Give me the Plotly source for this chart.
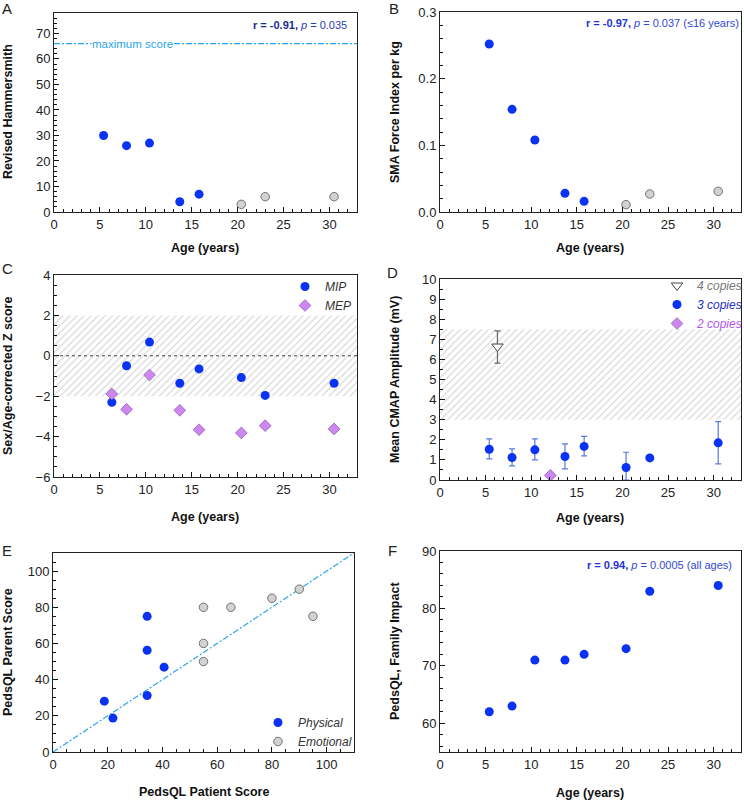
import plotly.graph_objects as go

W, H = 744, 800
FONT = "Liberation Sans, Arial, sans-serif"
BLUE = "#0a32f2"
GRAY_FILL = "#d2d2d2"
GRAY_EDGE = "#555555"
VIOLET_FILL = "#cc88ee"
VIOLET_EDGE = "#9a55c0"
LIGHT_BLUE = "#2aa6ee"

# ---------------- data ----------------
# Panel A: Revised Hammersmith vs age
a_age_blue = [5.4, 7.9, 10.4, 13.7, 15.8]
a_score_blue = [30, 26, 27, 4, 7]
a_age_gray = [20.4, 23.0, 30.5]
a_score_gray = [3, 6, 6]
a_max_score = 66

# Panel B: SMA Force Index per kg vs age
b_age_blue = [5.4, 7.9, 10.4, 13.7, 15.8]
b_sfi_blue = [0.252, 0.154, 0.108, 0.028, 0.016]
b_age_gray = [20.4, 23.0, 30.5]
b_sfi_gray = [0.011, 0.027, 0.031]

# Panel C: Z scores
c_age = [6.3, 7.9, 10.4, 13.7, 15.8, 20.4, 23.0, 30.5]
c_mip = [-2.30, -0.49, 0.68, -1.36, -0.65, -1.08, -1.96, -1.36]
c_mep = [-1.89, -2.65, -0.95, -2.70, -3.66, -3.82, -3.46, -3.62]
c_normal_band = [-2, 2]

# Panel D: CMAP amplitude
d_age_3 = [5.4, 7.9, 10.4, 13.7, 15.8, 20.4, 23.0, 30.5]
d_cmap_3 = [1.53, 1.12, 1.50, 1.17, 1.67, 0.62, 1.10, 1.85]
d_err_plus_3 = [0.52, 0.43, 0.55, 0.63, 0.50, 0.76, 0.0, 1.05]
d_err_minus_3 = [0.48, 0.42, 0.50, 0.62, 0.47, 0.62, 0.0, 1.05]
d_age_4 = [6.3]
d_cmap_4 = [6.64]
d_err_plus_4 = [0.78]
d_err_minus_4 = [0.83]
d_age_2 = [12.1]
d_cmap_2 = [0.23]
d_normal_band = [3, 7.5]

# Panel E: PedsQL patient vs parent
e_patient_phys = [18.75, 21.9, 34.4, 34.4, 34.4, 40.6]
e_parent_phys = [28.1, 18.75, 75.0, 56.25, 31.25, 46.9]
e_patient_emo = [55, 55, 55, 65, 80, 90, 95]
e_parent_emo = [80, 60, 50, 80, 85, 90, 75]
e_identity = [0, 110]

# Panel F: PedsQL Family Impact vs age
f_age = [5.4, 7.9, 10.4, 13.7, 15.8, 20.4, 23.0, 30.5]
f_impact = [62, 63, 71, 71, 72, 73, 83, 84]


def px_x(x):
    return x / W


def px_y(y):
    return 1 - y / H


def dom(x0, x1, y0, y1):
    return [px_x(x0), px_x(x1)], [px_y(y1), px_y(y0)]


fig = go.Figure()

blue_marker = dict(color=BLUE, size=9, line=dict(width=0))
gray_marker = dict(color=GRAY_FILL, size=8.5, line=dict(color=GRAY_EDGE, width=0.8))
violet_marker = dict(color=VIOLET_FILL, size=9, symbol="diamond",
                     line=dict(color=VIOLET_EDGE, width=0.8))

# ---- A ----
fig.add_trace(go.Scatter(x=a_age_blue, y=a_score_blue, mode="markers", marker=blue_marker,
                         xaxis="x", yaxis="y", showlegend=False))
fig.add_trace(go.Scatter(x=a_age_gray, y=a_score_gray, mode="markers", marker=gray_marker,
                         xaxis="x", yaxis="y", showlegend=False))
fig.add_shape(type="line", xref="x", yref="y", x0=0, x1=33, y0=a_max_score, y1=a_max_score,
              line=dict(color=LIGHT_BLUE, width=1.2, dash="6px,2px,2px,2px"))

# ---- B ----
fig.add_trace(go.Scatter(x=b_age_blue, y=b_sfi_blue, mode="markers", marker=blue_marker,
                         xaxis="x2", yaxis="y2", showlegend=False))
fig.add_trace(go.Scatter(x=b_age_gray, y=b_sfi_gray, mode="markers", marker=gray_marker,
                         xaxis="x2", yaxis="y2", showlegend=False))

# ---- C ----
hatch = dict(shape="/", fgcolor="#b4b4b4", bgcolor="white", size=5, solidity=0.25)
fig.add_trace(go.Scatter(x=[0, 33, 33, 0, 0],
                         y=[c_normal_band[0], c_normal_band[0], c_normal_band[1], c_normal_band[1], c_normal_band[0]],
                         fill="toself", fillpattern=hatch, mode="lines", line=dict(width=0),
                         xaxis="x3", yaxis="y3", showlegend=False, hoverinfo="skip"))
fig.add_shape(type="line", xref="x3", yref="y3", x0=0, x1=33, y0=0, y1=0,
              line=dict(color="#444", width=1, dash="dot"))
fig.add_trace(go.Scatter(x=c_age, y=c_mip, mode="markers", marker=blue_marker, name="MIP",
                         xaxis="x3", yaxis="y3", legend="legend"))
fig.add_trace(go.Scatter(x=c_age, y=c_mep, mode="markers", marker=violet_marker, name="MEP",
                         xaxis="x3", yaxis="y3", legend="legend"))

# ---- D ----
fig.add_trace(go.Scatter(x=[0, 33, 33, 0, 0],
                         y=[d_normal_band[0], d_normal_band[0], d_normal_band[1], d_normal_band[1], d_normal_band[0]],
                         fill="toself", fillpattern=hatch, mode="lines", line=dict(width=0),
                         xaxis="x4", yaxis="y4", showlegend=False, hoverinfo="skip"))
fig.add_trace(go.Scatter(x=d_age_4, y=d_cmap_4, mode="markers",
                         marker=dict(symbol="triangle-down", size=10, color="white",
                                     line=dict(color="#444", width=1)),
                         error_y=dict(type="data", array=d_err_plus_4, arrayminus=d_err_minus_4,
                                      color="#666", thickness=1.2, width=3),
                         name="<span style='color:#777'>4 copies</span>",
                         xaxis="x4", yaxis="y4", legend="legend2"))
fig.add_trace(go.Scatter(x=d_age_3, y=d_cmap_3, mode="markers", marker=blue_marker,
                         error_y=dict(type="data", array=d_err_plus_3, arrayminus=d_err_minus_3,
                                      color="#5a78e0", thickness=1.2, width=3),
                         name="<span style='color:#2530c8'>3 copies</span>",
                         xaxis="x4", yaxis="y4", legend="legend2"))
fig.add_trace(go.Scatter(x=d_age_2, y=d_cmap_2, mode="markers", marker=violet_marker,
                         name="<span style='color:#b455f0'>2 copies</span>",
                         xaxis="x4", yaxis="y4", legend="legend2"))

# ---- E ----
fig.add_trace(go.Scatter(x=e_identity, y=e_identity, mode="lines",
                         line=dict(color=LIGHT_BLUE, width=1.2, dash="6px,2px,2px,2px"),
                         xaxis="x5", yaxis="y5", showlegend=False, hoverinfo="skip"))
fig.add_trace(go.Scatter(x=e_patient_phys, y=e_parent_phys, mode="markers", marker=blue_marker,
                         name="Physical", xaxis="x5", yaxis="y5", legend="legend3"))
fig.add_trace(go.Scatter(x=e_patient_emo, y=e_parent_emo, mode="markers", marker=gray_marker,
                         name="Emotional", xaxis="x5", yaxis="y5", legend="legend3"))

# ---- F ----
fig.add_trace(go.Scatter(x=f_age, y=f_impact, mode="markers", marker=blue_marker,
                         xaxis="x6", yaxis="y6", showlegend=False))

tickfont = dict(family=FONT, size=13, color="#222")


def xax(domain, anchor, rng, dtick, minor_dtick):
    return dict(domain=domain, anchor=anchor, range=rng, dtick=dtick, tick0=0,
                ticks="inside", ticklen=5, tickwidth=1, tickcolor="#111",
                minor=dict(ticks="inside", ticklen=3, dtick=minor_dtick, tickcolor="#111", tickwidth=1),
                showline=True, linecolor="#222", linewidth=1, mirror=True,
                showgrid=False, zeroline=False, tickfont=tickfont, fixedrange=True)


def yax(domain, anchor, rng, dtick, minor_dtick, tick0=0, fmt=None):
    d = dict(domain=domain, anchor=anchor, range=rng, dtick=dtick, tick0=tick0,
             ticks="inside", ticklen=5, tickwidth=1, tickcolor="#111",
             minor=dict(ticks="inside", ticklen=3, dtick=minor_dtick, tickcolor="#111", tickwidth=1),
             showline=True, linecolor="#222", linewidth=1, mirror=True,
             showgrid=False, zeroline=False, tickfont=tickfont, fixedrange=True)
    if fmt:
        d["tickformat"] = fmt
    return d


Ax, Ay = dom(54, 357, 13, 212)
Bx, By = dom(440, 741, 12, 212)
Cx, Cy = dom(54, 357, 275, 477)
Dx, Dy = dom(440, 741, 279, 480)
Ex, Ey = dom(53, 354, 553, 752)
Fx, Fy = dom(440, 741, 551, 752)

legend_font = dict(family=FONT, size=12, style="italic", color="#333")
layout = dict(
    width=W, height=H, margin=dict(l=0, r=0, t=0, b=0, autoexpand=False),
    paper_bgcolor="white", plot_bgcolor="white",
    font=dict(family=FONT, size=12, color="#222"),
    xaxis=xax(Ax, "y", [0, 33], 5, 1),
    yaxis=yax(Ay, "x", [0, 78], 10, 2),
    xaxis2=xax(Bx, "y2", [0, 33], 5, 1),
    yaxis2=yax(By, "x2", [0, 0.3], 0.1, 0.02, fmt=".1f"),
    xaxis3=xax(Cx, "y3", [0, 33], 5, 1),
    yaxis3=yax(Cy, "x3", [-6, 4], 2, 0.5, tick0=0),
    xaxis4=xax(Dx, "y4", [0, 33], 5, 1),
    yaxis4=yax(Dy, "x4", [0, 10], 1, 0.5),
    xaxis5=xax(Ex, "y5", [0, 110], 20, 5),
    yaxis5=yax(Ey, "x5", [0, 110], 20, 5),
    xaxis6=xax(Fx, "y6", [0, 33], 5, 1),
    yaxis6=yax(Fy, "x6", [55, 90], 10, 2, tick0=60),
    legend=dict(x=px_x(285), y=px_y(272), xanchor="left", yanchor="top",
                bgcolor="rgba(0,0,0,0)", borderwidth=0, itemwidth=30, font=legend_font),
    legend2=dict(x=px_x(657), y=px_y(271), xanchor="left", yanchor="top",
                 bgcolor="rgba(0,0,0,0)", borderwidth=0, itemwidth=30, font=legend_font),
    legend3=dict(x=px_x(258), y=px_y(708), xanchor="left", yanchor="top",
                 bgcolor="rgba(0,0,0,0)", borderwidth=0, itemwidth=30, font=legend_font),
)
fig.update_layout(**layout)

ann = []
# panel letters
for letter, x, y in [("A", 7, 8), ("B", 394, 9), ("C", 7, 269), ("D", 392, 272), ("E", 7, 550), ("F", 392, 550)]:
    ann.append(dict(text=letter, x=px_x(x), y=px_y(y), xref="paper", yref="paper",
                    showarrow=False, xanchor="center", yanchor="middle",
                    font=dict(family=FONT, size=15, color="#222")))

# axis titles
title_font = dict(family=FONT, size=12.5, color="#111")
xtitles = [("Age (years)", 205, 248), ("Age (years)", 590, 248), ("Age (years)", 205, 517),
           ("Age (years)", 590, 518), ("PedsQL Patient Score", 204, 792), ("Age (years)", 590, 793)]
for t, x, y in xtitles:
    ann.append(dict(text="<b>%s</b>" % t, x=px_x(x), y=px_y(y), xref="paper", yref="paper",
                    showarrow=False, xanchor="center", yanchor="middle", font=title_font))
ytitles = [("Revised Hammersmith", 8, 112), ("SMA Force Index per kg", 395, 112),
           ("Sex/Age-corrected Z score", 8, 376), ("Mean CMAP Amplitude (mV)", 395, 380),
           ("PedsQL Parent Score", 8, 652), ("PedsQL, Family Impact", 395, 651)]
for t, x, y in ytitles:
    ann.append(dict(text="<b>%s</b>" % t, x=px_x(x), y=px_y(y), xref="paper", yref="paper",
                    showarrow=False, xanchor="center", yanchor="middle", textangle=-90, font=title_font))

# stats annotations
ann.append(dict(text="<span style='color:#1d2a8e'><b>r = -0.91,</b></span> <span style='color:#2b3cb0'><i>p</i> = 0.035</span>",
                x=px_x(349), y=px_y(25), xref="paper", yref="paper", showarrow=False,
                xanchor="right", yanchor="middle", font=dict(family=FONT, size=11)))
ann.append(dict(text="<span style='color:#1f33d6'><b>r = -0.97,</b></span> <span style='color:#3347d6'><i>p</i> = 0.037 (≤16 years)</span>",
                x=px_x(741), y=px_y(23), xref="paper", yref="paper", showarrow=False,
                xanchor="right", yanchor="middle", font=dict(family=FONT, size=11)))
ann.append(dict(text="<span style='color:#1f33d6'><b>r = 0.94,</b></span> <span style='color:#3347d6'><i>p</i> = 0.0005 (all ages)</span>",
                x=px_x(734), y=px_y(565), xref="paper", yref="paper", showarrow=False,
                xanchor="right", yanchor="middle", font=dict(family=FONT, size=11)))

# maximum score label
ann.append(dict(text="maximum score", x=8.6, y=a_max_score, xref="x", yref="y", showarrow=False,
                xanchor="center", yanchor="middle", bgcolor="white", borderpad=0,
                font=dict(family=FONT, size=11.5, color=LIGHT_BLUE)))

fig.update_layout(annotations=ann)
fig.write_html("out.html",
               config={"displayModeBar": False, "staticPlot": True},
               post_script="document.body.style.margin='0';document.body.style.padding='0';"
                           "document.body.style.overflow='hidden';")
